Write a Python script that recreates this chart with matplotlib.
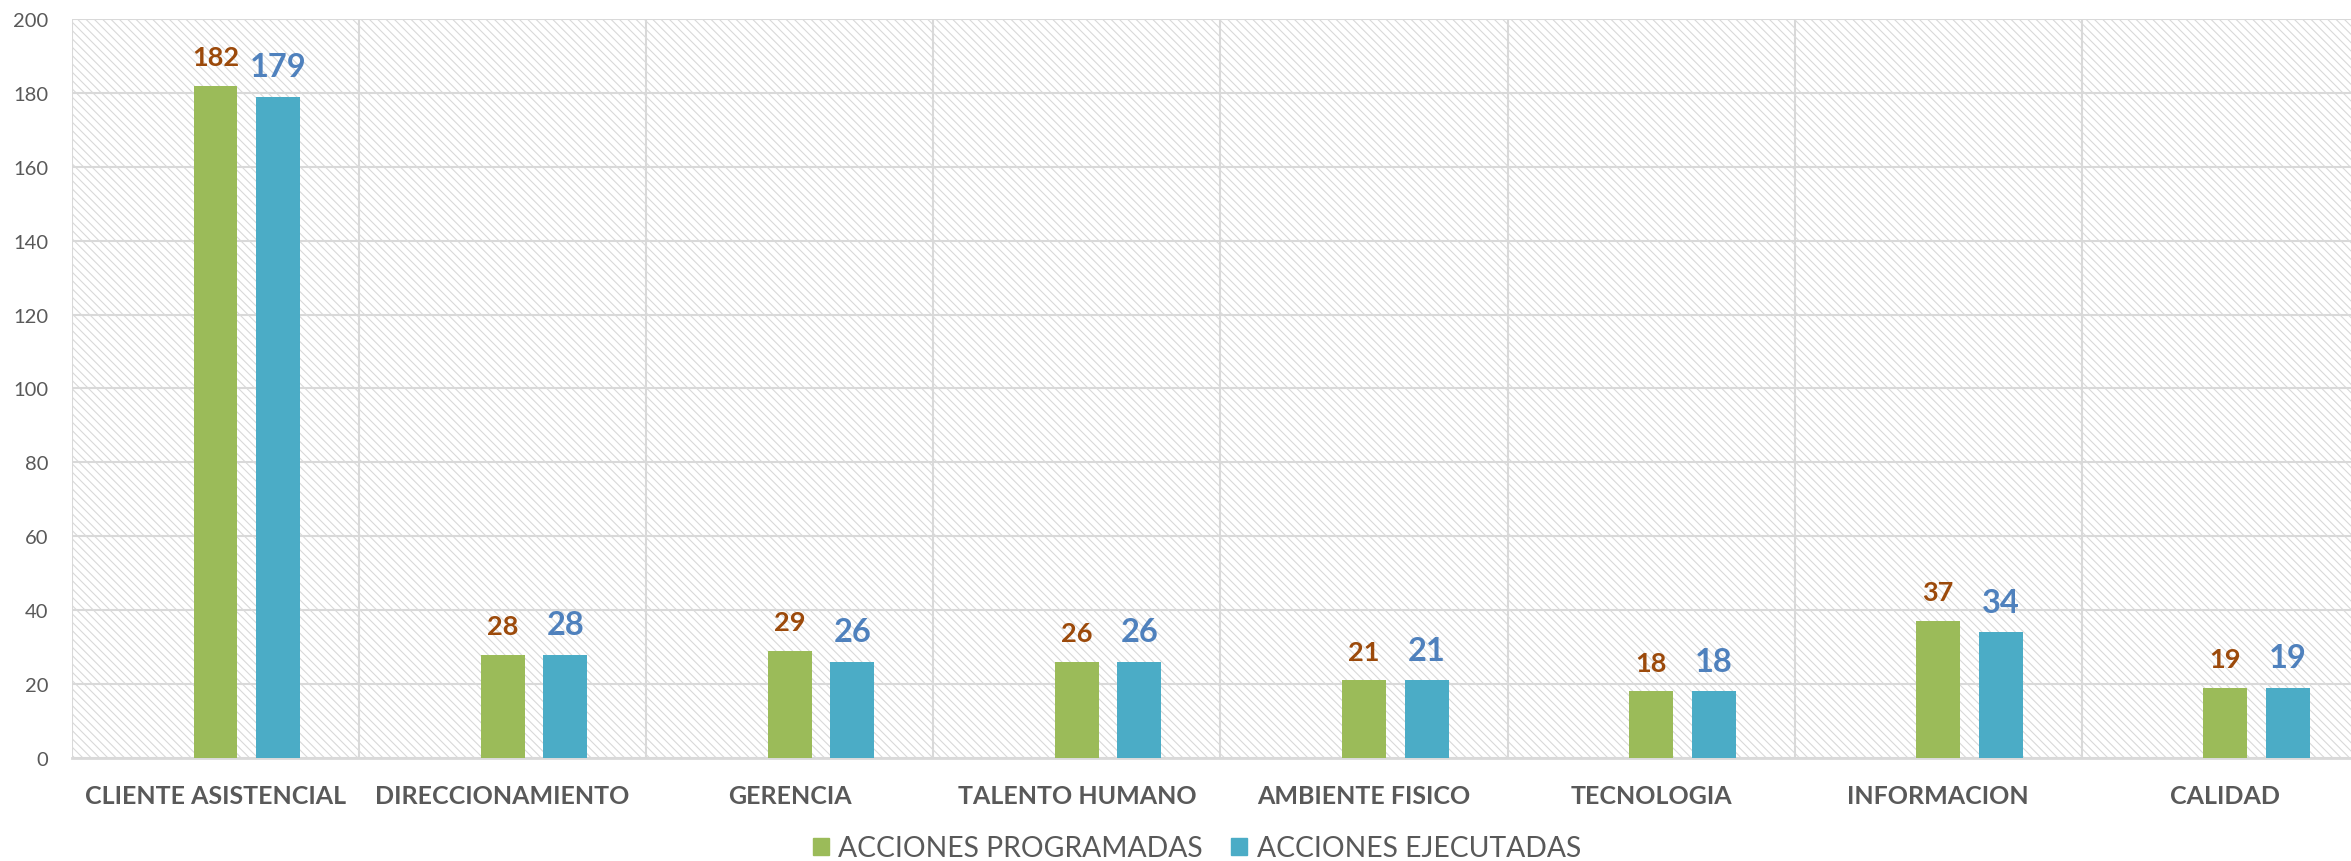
import matplotlib
matplotlib.use('Agg')
from matplotlib import pyplot as plt
from matplotlib.patches import Rectangle, Patch
import numpy as np

plt.rcParams['font.family'] = ['Lato', 'DejaVu Sans']
plt.rcParams['hatch.linewidth'] = 0.8

# Datos
categorias = ['CLIENTE ASISTENCIAL', 'DIRECCIONAMIENTO', 'GERENCIA', 'TALENTO HUMANO',
              'AMBIENTE FISICO', 'TECNOLOGIA', 'INFORMACION', 'CALIDAD']
programadas = [182, 28, 29, 26, 21, 18, 37, 19]
ejecutadas = [179, 28, 26, 26, 21, 18, 34, 19]

verde = '#9BBB59'
azul = '#4BACC6'
gris = '#595959'
linea = '#D9D9D9'

fig = plt.figure(figsize=(23.51, 8.62), dpi=100)
ax = fig.add_axes([0.0306, 0.1195, 0.977, 0.8573])

x = np.arange(len(categorias))
ancho = 0.153
paso = 0.218

# fondo rayado
ax.add_patch(Rectangle((0, 0), 1, 1, transform=ax.transAxes, facecolor='white',
                       edgecolor='#D9D9D9', linewidth=0, hatch='\\\\\\\\', zorder=0))

ax.bar(x, programadas, ancho, color=verde, zorder=3)
ax.bar(x + paso, ejecutadas, ancho, color=azul, zorder=3)

for i in range(len(categorias)):
    ax.annotate(str(programadas[i]), (x[i], programadas[i]), xytext=(0, 15),
                textcoords='offset points', ha='center', va='baseline',
                fontsize=19.5, fontweight='bold', color='#9C4A0B')
    ax.annotate(str(ejecutadas[i]), (x[i] + paso, ejecutadas[i]), xytext=(0, 15),
                textcoords='offset points', ha='center', va='baseline',
                fontsize=23.5, fontweight='bold', color='#4F81BD')

ax.set_xlim(-0.5, len(categorias) - 0.5)
ax.set_ylim(0, 200)
ax.set_yticks(range(0, 201, 20))
ax.set_xticks(x)
ax.set_xticklabels(categorias, fontsize=18, fontweight='bold', color=gris)
ax.set_xticks(np.arange(-0.5, len(categorias), 1), minor=True)
ax.tick_params(axis='y', labelsize=14.5, labelcolor=gris, length=0, pad=17)
ax.tick_params(axis='x', which='both', length=0, pad=19)

ax.grid(axis='y', color=linea, linewidth=1.5, zorder=1)
ax.grid(axis='x', which='minor', color=linea, linewidth=1.5, zorder=1)
ax.grid(axis='x', which='major', visible=False)
for s in ['top', 'right', 'left']:
    ax.spines[s].set_visible(False)
ax.spines['bottom'].set_color(linea)
ax.spines['bottom'].set_linewidth(2)
ax.set_axisbelow(True)

leyenda = [Patch(color=verde, label='ACCIONES PROGRAMADAS'),
           Patch(color=azul, label='ACCIONES EJECUTADAS')]
fig.legend(handles=leyenda, loc='center', bbox_to_anchor=(1197 / 2351, 1 - 849 / 862),
           ncol=2, frameon=False, fontsize=20.3, handlelength=0.55, handleheight=0.55,
           handletextpad=0.35, columnspacing=1.0, labelcolor=gris)

fig.savefig('out.png', dpi=100)
